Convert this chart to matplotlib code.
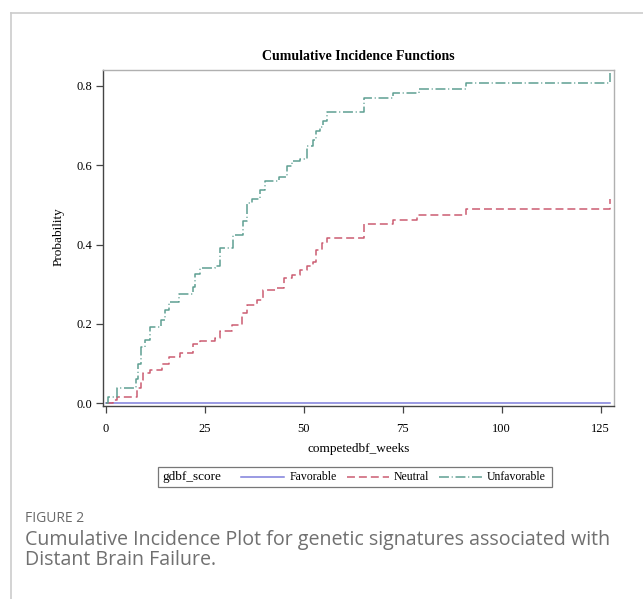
import matplotlib
matplotlib.use("Agg")
import matplotlib.pyplot as plt
from matplotlib.lines import Line2D
from matplotlib.patches import Rectangle

# step data (weeks, probability)
fav_t = [0, 127.5]
fav_p = [0.0, 0.0]

neu_t = [0, 1.7, 2.7, 7.8, 8.8, 9.4, 11.0, 14.1, 15.8, 18.7, 21.9, 23.8, 27.6, 28.8,
         31.8, 34.3, 35.6, 38.1, 39.8, 43.2, 44.9, 47.0, 49.1, 50.8, 52.4, 53.1,
         54.6, 55.8, 65.1, 72.5, 78.6, 91.0, 127.5]
neu_p = [0.0, 0.008, 0.017, 0.038, 0.059, 0.076, 0.084, 0.100, 0.116, 0.126, 0.150,
         0.158, 0.164, 0.183, 0.197, 0.227, 0.248, 0.260, 0.286, 0.290, 0.315, 0.324,
         0.336, 0.345, 0.357, 0.387, 0.403, 0.416, 0.451, 0.462, 0.475, 0.489, 0.514]

unf_t = [0, 0.6, 2.7, 7.6, 8.2, 8.8, 9.9, 11.0, 13.8, 14.9, 15.8, 18.5, 21.9, 22.5,
         23.8, 27.6, 28.8, 32.2, 34.7, 35.6, 36.8, 39.0, 40.2, 43.6, 45.7, 47.0, 49.1,
         50.8, 52.4, 53.1, 54.1, 54.8, 55.8, 65.1, 72.5, 79.0, 91.0, 127.5]
unf_p = [0.0, 0.017, 0.038, 0.060, 0.100, 0.143, 0.160, 0.193, 0.210, 0.235, 0.256,
         0.276, 0.293, 0.326, 0.340, 0.346, 0.390, 0.425, 0.458, 0.504, 0.514, 0.538,
         0.559, 0.571, 0.597, 0.610, 0.615, 0.647, 0.664, 0.685, 0.697, 0.710, 0.733,
         0.769, 0.782, 0.792, 0.807, 0.832]

groups = ["Favorable", "Neutral", "Unfavorable"]
colors = ["#7F7FDB", "#CC5C72", "#5E9F92"]
dashes = [None, (5.2, 2.6), (6.5, 1.8, 0.7, 1.8)]

xticks = [0, 25, 50, 75, 100, 125]
yticks = [0.0, 0.2, 0.4, 0.6, 0.8]

W, H = 643, 599
fig = plt.figure(figsize=(W / 100, H / 100), dpi=100)
serif = "Liberation Serif"

ax = fig.add_axes([103 / W, 1 - 406 / H, (614 - 103) / W, (406 - 70) / H])

series = [(fav_t, fav_p), (neu_t, neu_p), (unf_t, unf_p)]
for (t, p), name, c, d in zip(series, groups, colors, dashes):
    ln, = ax.step(t, p, where="post", color=c, lw=1.1, label=name)
    if d is not None:
        ln.set_dashes(d)

ax.set_xlim(-0.76, 128.4)
ax.set_ylim(-0.0068, 0.8396)
ax.set_xticks(xticks)
ax.set_yticks(yticks)
ax.set_xticklabels([str(v) for v in xticks], fontfamily=serif, fontsize=9)
ax.set_yticklabels(["%.1f" % v for v in yticks], fontfamily=serif, fontsize=9)
ax.tick_params(axis="both", direction="out", length=5, width=0.9, color="#444444")
ax.tick_params(axis="x", pad=7)
ax.tick_params(axis="y", pad=3)
for s in ["left", "bottom"]:
    ax.spines[s].set_color("#444444")
    ax.spines[s].set_linewidth(1.0)
for s in ["top", "right"]:
    ax.spines[s].set_color("#b0b0b0")
    ax.spines[s].set_linewidth(1.0)

fig.text(358.7 / W, 1 - 60 / H, "Cumulative Incidence Functions", ha="center",
         va="baseline", fontfamily=serif, fontweight="bold", fontsize=10)
fig.text(359 / W, 1 - 449 / H, "competedbf_weeks", ha="center", va="center",
         fontfamily=serif, fontsize=9.5)
fig.text(59 / W, 1 - 237 / H, "Probability", ha="center", va="center",
         rotation=90, fontfamily=serif, fontsize=9.5)

# legend box drawn by hand, SAS style (title on the left, entries in a row)
fig.patches.append(Rectangle((158 / W, 1 - 487 / H), (552 - 158) / W, 20 / H,
                             transform=fig.transFigure, fill=False,
                             edgecolor="#777777", lw=0.9))
ly = 1 - 477 / H
fig.text(162 / W, ly, "gdbf_score", ha="left", va="center", fontfamily=serif, fontsize=9.5)
seg = [(241, 284, 290), (347, 389, 394), (439, 482, 487)]
for (x0, x1, xt), name, c, d in zip(seg, groups, colors, dashes):
    l = Line2D([x0 / W, x1 / W], [ly, ly], transform=fig.transFigure, color=c, lw=1.1)
    if d is not None:
        l.set_dashes(d)
    fig.lines.append(l)
    fig.text(xt / W, ly, name, ha="left", va="center", fontfamily=serif, fontsize=8.5)

# page frame
fig.lines.append(Line2D([11 / W, 1], [1 - 13 / H, 1 - 13 / H], transform=fig.transFigure,
                        color="#cccccc", lw=1.2))
fig.lines.append(Line2D([11 / W, 11 / W], [0, 1 - 13 / H], transform=fig.transFigure,
                        color="#cccccc", lw=1.2))

fig.text(25 / W, 1 - 518 / H, "FIGURE 2", ha="left", va="center",
         fontfamily="Open Sans", fontsize=10, color="#6a6a6a")
fig.text(25 / W, 1 - 540 / H, "Cumulative Incidence Plot for genetic signatures associated with",
         ha="left", va="center", fontfamily="Open Sans", fontsize=14.1, color="#707070")
fig.text(25 / W, 1 - 560 / H, "Distant Brain Failure.",
         ha="left", va="center", fontfamily="Open Sans", fontsize=14.1, color="#707070")

fig.savefig("out.png", dpi=100)
